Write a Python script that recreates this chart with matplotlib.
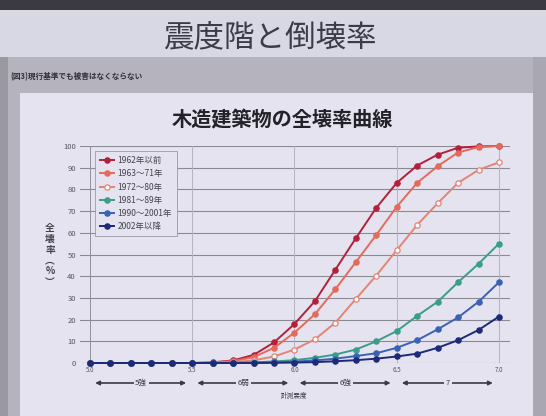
import matplotlib
matplotlib.use("Agg")
import matplotlib.pyplot as plt
from matplotlib.patches import Rectangle

plt.rcParams['font.family'] = ['Noto Sans CJK JP', 'DejaVu Sans']

# 計測震度 (5.0 - 7.0, 0.1 step)
intensity = [5.0, 5.1, 5.2, 5.3, 5.4, 5.5, 5.6, 5.7, 5.8, 5.9, 6.0,
             6.1, 6.2, 6.3, 6.4, 6.5, 6.6, 6.7, 6.8, 6.9, 7.0]

# 全壊率 (%) by construction period
rate_pre1962 = [0, 0, 0, 0, 0, 0, 0.3, 1.2, 3.7, 9.5, 18.0,
                28.5, 43.0, 57.5, 71.5, 83.0, 91.0, 96.0, 99.2, 99.8, 100]
rate_1963_71 = [0, 0, 0, 0, 0, 0, 0.2, 0.9, 2.7, 7.0, 14.0,
                22.5, 34.0, 46.5, 59.0, 72.0, 83.0, 90.7, 97.0, 99.5, 100]
rate_1972_80 = [0, 0, 0, 0, 0, 0, 0.1, 0.4, 1.2, 3.0, 6.2,
                10.9, 18.6, 29.5, 40.3, 52.0, 63.6, 73.6, 83.0, 89.0, 92.5]
rate_1981_89 = [0, 0, 0, 0, 0, 0, 0, 0.1, 0.3, 0.7, 1.3,
                2.4, 3.9, 6.2, 10.0, 14.7, 21.7, 28.2, 37.2, 45.7, 55.0]
rate_1990_2001 = [0, 0, 0, 0, 0, 0, 0, 0, 0.1, 0.3, 0.6,
                  1.2, 2.0, 3.2, 4.5, 7.0, 10.5, 15.5, 21.0, 28.2, 37.2]
rate_post2002 = [0, 0, 0, 0, 0, 0, 0, 0, 0, 0.1, 0.2,
                 0.4, 0.8, 1.3, 2.0, 3.0, 4.3, 7.0, 10.5, 15.2, 21.4]

series_labels = ['1962年以前', '1963〜71年', '1972〜80年',
                 '1981〜89年', '1990〜2001年', '2002年以降']
y_ticks = [0, 10, 20, 30, 40, 50, 60, 70, 80, 90, 100]
x_ticks = [5.0, 5.5, 6.0, 6.5, 7.0]
x_tick_labels = ['5.0', '5.5', '6.0', '6.5', '7.0']
shindo_bounds = [5.0, 5.5, 6.0, 6.5, 7.0]
shindo_labels = ['5強', '6弱', '6強', '7']

W, H = 546, 416
fig = plt.figure(figsize=(W / 100, H / 100), dpi=100)
fig.patch.set_facecolor('#d8d7e4')


def px_rect(x0, y0, x1, y1, color):
    fig.patches.append(Rectangle((x0 / W, 1 - y1 / H), (x1 - x0) / W, (y1 - y0) / H,
                                 transform=fig.transFigure, facecolor=color,
                                 edgecolor='none', zorder=-10))


# slide frame and panels
px_rect(0, 0, W, 10, '#3a3a40')
px_rect(0, 57, W, H, '#b5b4be')
px_rect(0, 57, 8, H, '#9a99a2')
px_rect(533, 57, W, H, '#a9a8b2')
px_rect(20, 93, 533, H, '#e4e3ef')

panel = '#e4e3ef'

fig.text(270 / W, 1 - 38 / H, '震度階と倒壊率', ha='center', va='center',
         fontsize=22, color='#3c3c48')
fig.text(10 / W, 1 - 77 / H, '(図3)現行基準でも被害はなくならない', ha='left', va='center',
         fontsize=5.5, color='#303038', fontweight='bold')
fig.text(282 / W, 1 - 120 / H, '木造建築物の全壊率曲線', ha='center', va='center',
         fontsize=14.5, color='#222228', fontweight='bold')

ax_left, ax_right, ax_top, ax_bottom = 80, 510, 146, 363
ax = fig.add_axes([ax_left / W, 1 - ax_bottom / H,
                   (ax_right - ax_left) / W, (ax_bottom - ax_top) / H])
ax.set_facecolor('none')
ax.set_xlim(4.951, 7.054)
ax.set_ylim(0, 100)
for s in ax.spines.values():
    s.set_visible(False)

for yv in y_ticks:
    ax.axhline(yv, color='#8a8a92', lw=0.8, zorder=1)
for xv in x_ticks:
    ax.axvline(xv, color='#b4b4c0' if xv != 5.0 else '#9090a0', lw=0.7, zorder=1)

ax.set_yticks(y_ticks)
ax.set_yticklabels([str(v) for v in y_ticks])
ax.set_xticks(x_ticks)
ax.set_xticklabels(x_tick_labels)
ax.tick_params(axis='y', length=0, pad=3, labelsize=5.5, labelcolor='#55555e')
ax.tick_params(axis='x', length=0, pad=2, labelsize=4.5, labelcolor='#55555e')

styles = [
    (rate_pre1962, '#b3203c', '#b3203c'),
    (rate_1963_71, '#e46a5c', '#e46a5c'),
    (rate_1972_80, '#e38474', '#ffffff'),
    (rate_1981_89, '#3c9c8c', '#3c9c8c'),
    (rate_1990_2001, '#3a62b4', '#3a62b4'),
    (rate_post2002, '#1c2a78', '#1c2a78'),
]
for (vals, col, face), lab in zip(styles, series_labels):
    ax.plot(intensity, vals, color=col, lw=1.4, marker='o', ms=3.8,
            mfc=face, mec=col, mew=0.9, label=lab, clip_on=False, zorder=3)

leg = ax.legend(loc='upper left', bbox_to_anchor=(0.035, 0.975), borderaxespad=0,
                fontsize=6.1, handlelength=1.7, handletextpad=0.4,
                labelspacing=0.5, borderpad=0.55, fancybox=False,
                framealpha=1, facecolor=panel, edgecolor='#9a9aa4')
leg.get_frame().set_linewidth(0.6)
for t in leg.get_texts():
    t.set_color('#44444c')

# 震度階の範囲を示す矢印
xt = ax.get_xaxis_transform()
arrow_y = (ax_bottom - 383) / (ax_bottom - ax_top)
for lo, hi, lab in zip(shindo_bounds[:-1], shindo_bounds[1:], shindo_labels):
    ax.annotate('', xy=(hi - 0.03, arrow_y), xytext=(lo + 0.025, arrow_y),
                xycoords=xt, textcoords=xt,
                arrowprops=dict(arrowstyle='<|-|>', color='#3a3a44', lw=1.2,
                                mutation_scale=6, shrinkA=0, shrinkB=0),
                annotation_clip=False)
    ax.text((lo + hi) / 2, arrow_y, lab, transform=xt, ha='center', va='center',
            fontsize=5.5, color='#3a3a44',
            bbox=dict(facecolor=panel, edgecolor='none', pad=1.2))

ax.text(6.0, (ax_bottom - 396) / (ax_bottom - ax_top), '計測震度', transform=xt,
        ha='center', va='center', fontsize=4.8, color='#3a3a44')

fig.text(50 / W, 1 - 255 / H, '全\n壊\n率\n︵\n%\n︶', ha='center', va='center',
         fontsize=7, color='#44444c', linespacing=1.1, fontweight='bold')

fig.savefig('out.png', dpi=100, facecolor=fig.get_facecolor())
